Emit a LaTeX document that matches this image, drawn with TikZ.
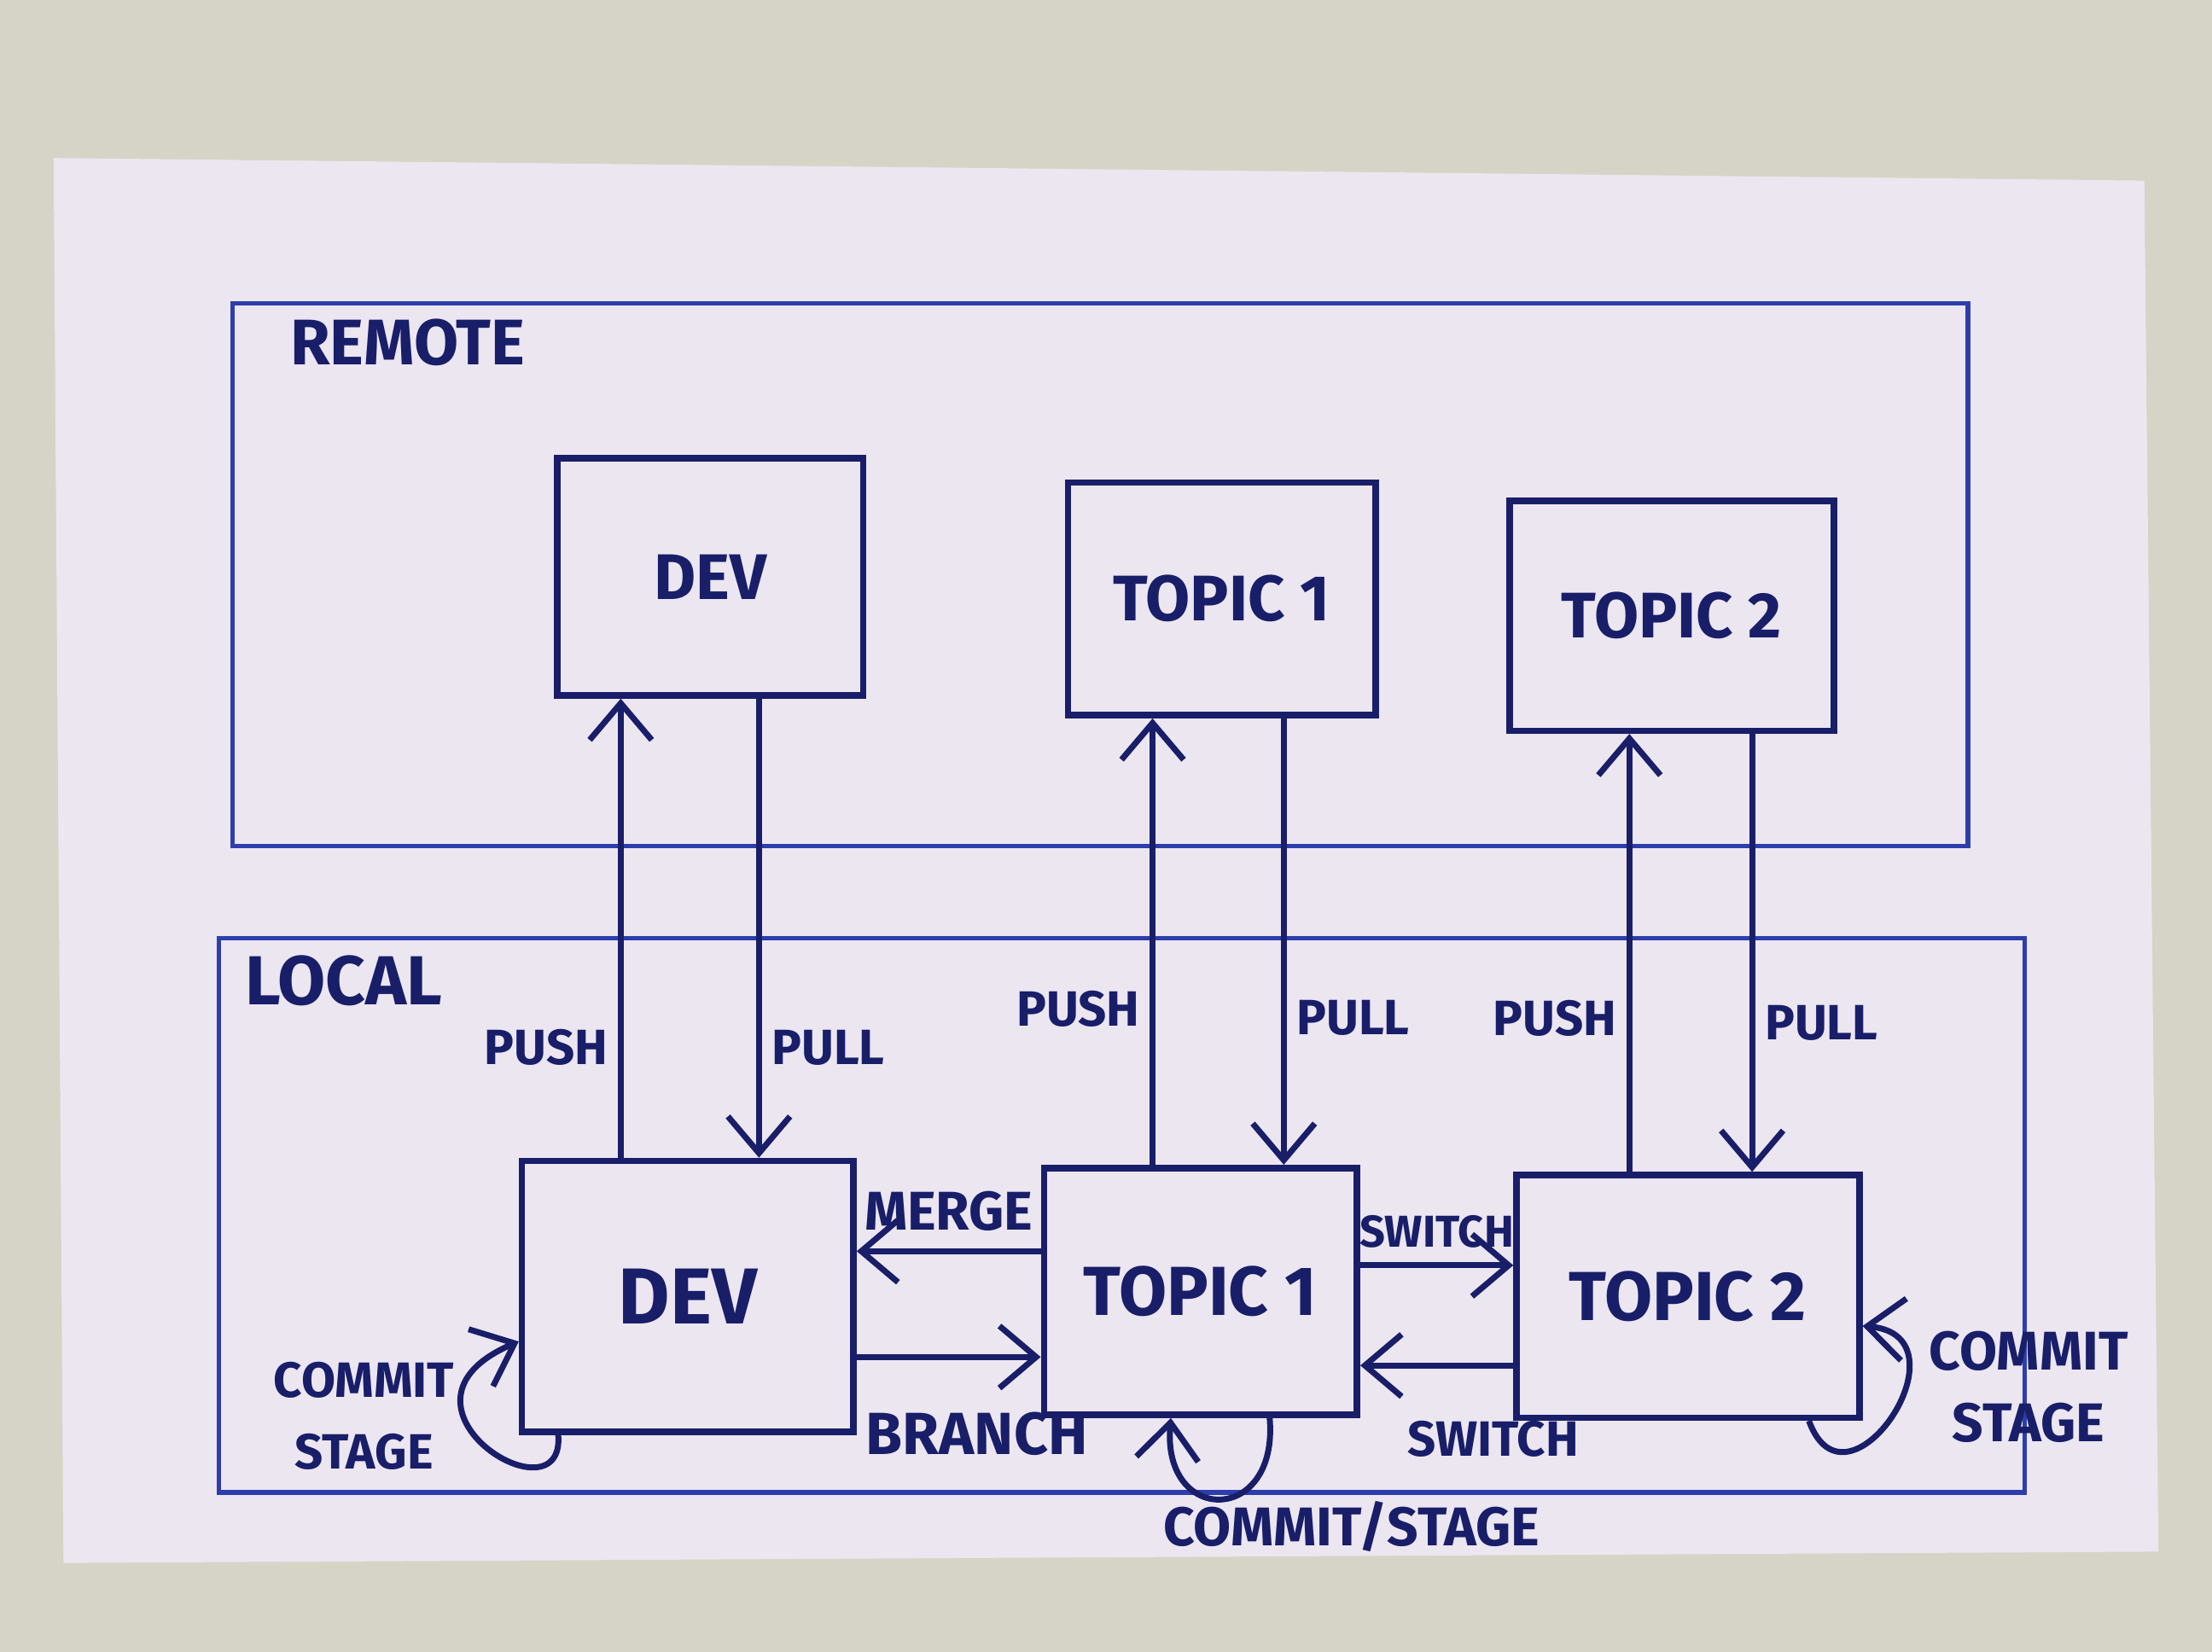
\documentclass[tikz,border=0pt]{standalone}
\usepackage{fontspec}
\setmainfont{Fira Sans}
\usetikzlibrary{arrows.meta}
\definecolor{ink}{RGB}{25,30,105}
\definecolor{penblue}{RGB}{45,62,172}
\definecolor{paper}{RGB}{236,230,241}
\definecolor{desk}{RGB}{214,212,198}
\begin{document}
\begin{tikzpicture}[x=1cm,y=-1cm,
		>={Straight Barb[length=2.6mm,width=4.4mm]},
		area/.style={draw=penblue,line width=0.9pt},
		box/.style={draw=ink,line width=1.3pt,text=ink,font=\bfseries\fontsize{13}{15}\selectfont},
		tag/.style={text=ink,font=\bfseries\fontsize{10}{14}\selectfont,inner sep=2pt},
		flow/.style={draw=ink,line width=1.2pt,->}]
		\useasboundingbox (0,0) rectangle (15.68,11.71);
		\fill[desk] (0,0) rectangle (15.68,11.71);
		\fill[paper] (0.38,1.12) -- (15.2,1.28) -- (15.3,11.0) -- (0.45,11.08) -- cycle;
		
		% the two areas
		\node[area,minimum width=12.3cm,minimum height=3.85cm] (remote) at (7.80,4.075) {};
		\node[tag,anchor=west,font=\bfseries\fontsize{13}{15}\selectfont] (remotelbl) at (1.98,2.43) {REMOTE};
		\node[area,minimum width=12.8cm,minimum height=3.93cm] (local) at (7.95,8.615) {};
		\node[tag,anchor=west,font=\bfseries\fontsize{14}{16}\selectfont] (locallbl) at (1.66,6.95) {LOCAL};
		
		% remote branches
		\node[box,minimum width=2.17cm,minimum height=1.68cm] (rdev) at (5.035,4.09) {DEV};
		\node[box,minimum width=2.18cm,minimum height=1.65cm] (rtopic1) at (8.66,4.245) {TOPIC 1};
		\node[box,minimum width=2.30cm,minimum height=1.63cm] (rtopic2) at (11.85,4.365) {TOPIC 2};
		
		% local branches
		\node[box,minimum width=2.35cm,minimum height=1.92cm,font=\bfseries\fontsize{16}{18}\selectfont] (ldev) at (4.875,9.19) {DEV};
		\node[box,minimum width=2.22cm,minimum height=1.75cm,font=\bfseries\fontsize{14}{16}\selectfont] (ltopic1) at (8.51,9.155) {TOPIC 1};
		\node[box,minimum width=2.43cm,minimum height=1.72cm,font=\bfseries\fontsize{14}{16}\selectfont] (ltopic2) at (11.965,9.19) {TOPIC 2};
		
		% push / pull
		\draw[flow] (4.40,0 |- ldev.north) -- node[tag,left,pos=.24] (pushdev) {PUSH} (4.40,0 |- rdev.south);
		\draw[flow] (5.38,0 |- rdev.south) -- node[tag,right,pos=.76] (pulldev) {PULL} (5.38,0 |- ldev.north);
		\draw[flow] (8.17,0 |- ltopic1.north) -- node[tag,left,pos=.35] (pushtopicA) {PUSH} (8.17,0 |- rtopic1.south);
		\draw[flow] (9.10,0 |- rtopic1.south) -- node[tag,right,pos=.67] (pulltopicA) {PULL} (9.10,0 |- ltopic1.north);
		\draw[flow] (11.55,0 |- ltopic2.north) -- node[tag,left,pos=.35] (pushtopicB) {PUSH} (11.55,0 |- rtopic2.south);
		\draw[flow] (12.42,0 |- rtopic2.south) -- node[tag,right,pos=.66] (pulltopicB) {PULL} (12.42,0 |- ltopic2.north);
		
		% merge / branch / switch
		\draw[flow] (ltopic1.west |- 0,8.87) -- node[tag,above,yshift=0.05cm,font=\bfseries\fontsize{11}{14}\selectfont] (merge) {MERGE} (ldev.east |- 0,8.87);
		\draw[flow] (ldev.east |- 0,9.62) -- node[tag,below,yshift=-0.3cm,xshift=0.2cm,font=\bfseries\fontsize{12}{14}\selectfont] (branch) {BRANCH} (ltopic1.west |- 0,9.62);
		\draw[flow] (ltopic1.east |- 0,8.97) -- node[tag,above,yshift=0.03cm,font=\bfseries\fontsize{9}{12}\selectfont] (switchA) {SWITCH} (ltopic2.west |- 0,8.97);
		\draw[flow] (ltopic2.west |- 0,9.68) -- node[tag,below,yshift=-0.3cm,xshift=0.4cm] (switchB) {SWITCH} (ltopic1.east |- 0,9.68);
		
		% commit / stage loops
		\draw[flow] ([xshift=0.28cm]ldev.south west) .. controls +(0.05,0.64) and +(-1.05,0.45) .. ([yshift=-0.32cm]ldev.west);
		\node[tag,align=center,font=\bfseries\fontsize{10}{14.5}\selectfont] (commitdev) at (2.58,10.04) {COMMIT\\STAGE};
		\draw[flow] ([xshift=0.49cm]ltopic1.south) to[out=-85,in=-95,looseness=2.8] ([xshift=-0.21cm]ltopic1.south);
		\node[tag,font=\bfseries\fontsize{11}{14}\selectfont] (committopicA) at (9.58,10.82) {COMMIT/STAGE};
		\draw[flow] ([xshift=-0.38cm]ltopic2.south east) to[out=-70,in=-5,looseness=2.6] ([yshift=-0.21cm]ltopic2.east);
		\node[tag,align=center,font=\bfseries\fontsize{11}{14.5}\selectfont] (committopicB) at (14.38,9.83) {COMMIT\\STAGE};
	\end{tikzpicture}
\end{document}
